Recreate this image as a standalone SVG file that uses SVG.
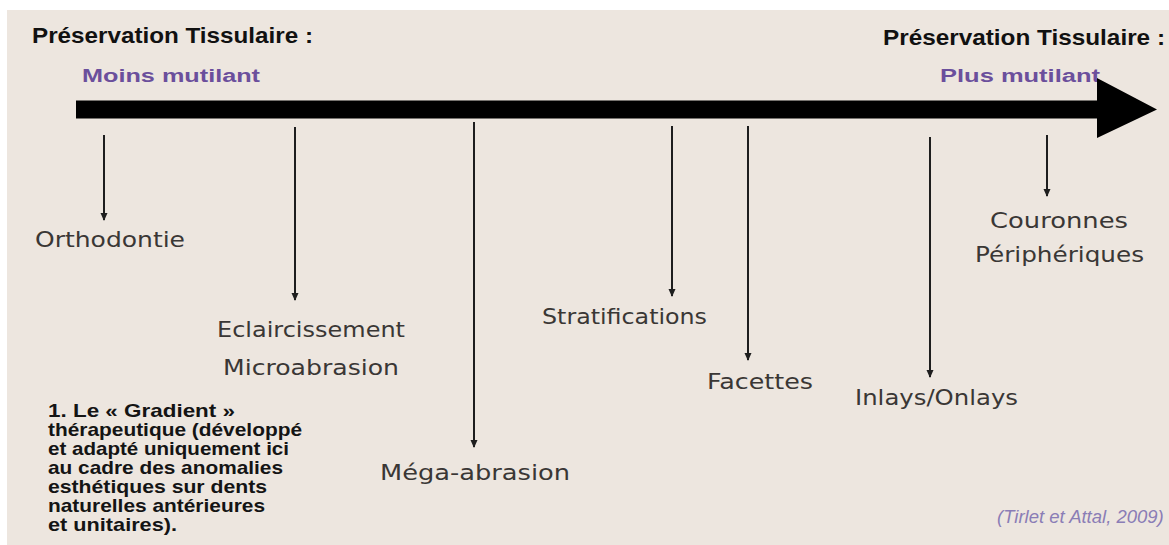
<svg xmlns="http://www.w3.org/2000/svg" width="1169" height="545" viewBox="0 0 1169 545">
  <defs>
    <marker id="ah" markerWidth="8" markerHeight="8" refX="7" refY="4" orient="auto" markerUnits="userSpaceOnUse" viewBox="0 0 8 8">
      <path d="M0,0.5 L8,4 L0,7.5 Z" fill="#1e1e1e"/>
    </marker>
    <style>
      .title { font-family: "Liberation Sans", Arial, sans-serif; font-weight: bold; font-size: 22px; fill: #111; }
      .sub { font-family: "Liberation Sans", Arial, sans-serif; font-weight: bold; font-size: 18px; fill: #6b4f9c; }
      .lbl { font-family: "DejaVu Sans", sans-serif; font-size: 21px; fill: #3a3735; }
      .cap { font-family: "Liberation Sans", Arial, sans-serif; font-weight: bold; font-size: 19px; fill: #141414; }
      .cite { font-family: "Liberation Sans", Arial, sans-serif; font-style: italic; font-size: 18.5px; fill: #8a7db6; }
      .tick { stroke: #1e1e1e; stroke-width: 2; fill: none; marker-end: url(#ah); }
    </style>
  </defs>
  <rect x="0" y="0" width="1169" height="545" fill="#ffffff"/>
  <rect x="7" y="10" width="1162" height="535" fill="#ede6df"/>

  <g id="header-left">
    <text class="title" x="32" y="43" textLength="281" lengthAdjust="spacingAndGlyphs">Préservation Tissulaire :</text>
    <text class="sub" x="82" y="82" textLength="178" lengthAdjust="spacingAndGlyphs">Moins mutilant</text>
  </g>
  <g id="header-right">
    <text class="title" x="883" y="45" textLength="282" lengthAdjust="spacingAndGlyphs">Préservation Tissulaire :</text>
    <text class="sub" x="940" y="82" textLength="160" lengthAdjust="spacingAndGlyphs">Plus mutilant</text>
  </g>

  <g id="main-arrow">
    <path d="M76,100.5 L1097,100.5 L1097,78 L1157,109.5 L1097,138 L1097,118.5 L76,118.5 Z" fill="#000"/>
  </g>

  <g id="connectors">
    <line class="tick" x1="104" y1="135" x2="104" y2="220"/>
    <line class="tick" x1="295" y1="127" x2="295" y2="300"/>
    <line class="tick" x1="474" y1="122" x2="474" y2="447"/>
    <line class="tick" x1="672" y1="126" x2="672" y2="296"/>
    <line class="tick" x1="748" y1="126" x2="748" y2="360"/>
    <line class="tick" x1="930" y1="137" x2="930" y2="377"/>
    <line class="tick" x1="1047" y1="135" x2="1047" y2="196"/>
  </g>

  <g id="node-orthodontie">
    <text class="lbl" x="35" y="247" textLength="150" lengthAdjust="spacingAndGlyphs">Orthodontie</text>
  </g>
  <g id="node-eclaircissement">
    <text class="lbl" x="217" y="337" textLength="188" lengthAdjust="spacingAndGlyphs">Eclaircissement</text>
    <text class="lbl" x="223" y="375" textLength="176" lengthAdjust="spacingAndGlyphs">Microabrasion</text>
  </g>
  <g id="node-mega-abrasion">
    <text class="lbl" x="380" y="480" textLength="190" lengthAdjust="spacingAndGlyphs">Méga-abrasion</text>
  </g>
  <g id="node-stratifications">
    <text class="lbl" x="542" y="324" textLength="165" lengthAdjust="spacingAndGlyphs">Stratifications</text>
  </g>
  <g id="node-facettes">
    <text class="lbl" x="707" y="389" textLength="106" lengthAdjust="spacingAndGlyphs">Facettes</text>
  </g>
  <g id="node-inlays">
    <text class="lbl" x="855" y="405" textLength="163" lengthAdjust="spacingAndGlyphs">Inlays/Onlays</text>
  </g>
  <g id="node-couronnes">
    <text class="lbl" x="990" y="228" textLength="138" lengthAdjust="spacingAndGlyphs">Couronnes</text>
    <text class="lbl" x="975" y="262" textLength="169" lengthAdjust="spacingAndGlyphs">Périphériques</text>
  </g>

  <g id="caption">
    <text class="cap" x="48" y="417" textLength="187" lengthAdjust="spacingAndGlyphs">1. Le « Gradient »</text>
    <text class="cap" x="48" y="436" textLength="254" lengthAdjust="spacingAndGlyphs">thérapeutique (développé</text>
    <text class="cap" x="48" y="455" textLength="241" lengthAdjust="spacingAndGlyphs">et adapté uniquement ici</text>
    <text class="cap" x="48" y="474" textLength="235" lengthAdjust="spacingAndGlyphs">au cadre des anomalies</text>
    <text class="cap" x="48" y="493" textLength="219" lengthAdjust="spacingAndGlyphs">esthétiques sur dents</text>
    <text class="cap" x="48" y="512" textLength="217" lengthAdjust="spacingAndGlyphs">naturelles antérieures</text>
    <text class="cap" x="48" y="531" textLength="129" lengthAdjust="spacingAndGlyphs">et unitaires).</text>
  </g>

  <g id="citation">
    <text class="cite" x="997" y="523">(Tirlet et Attal, 2009)</text>
  </g>
</svg>
